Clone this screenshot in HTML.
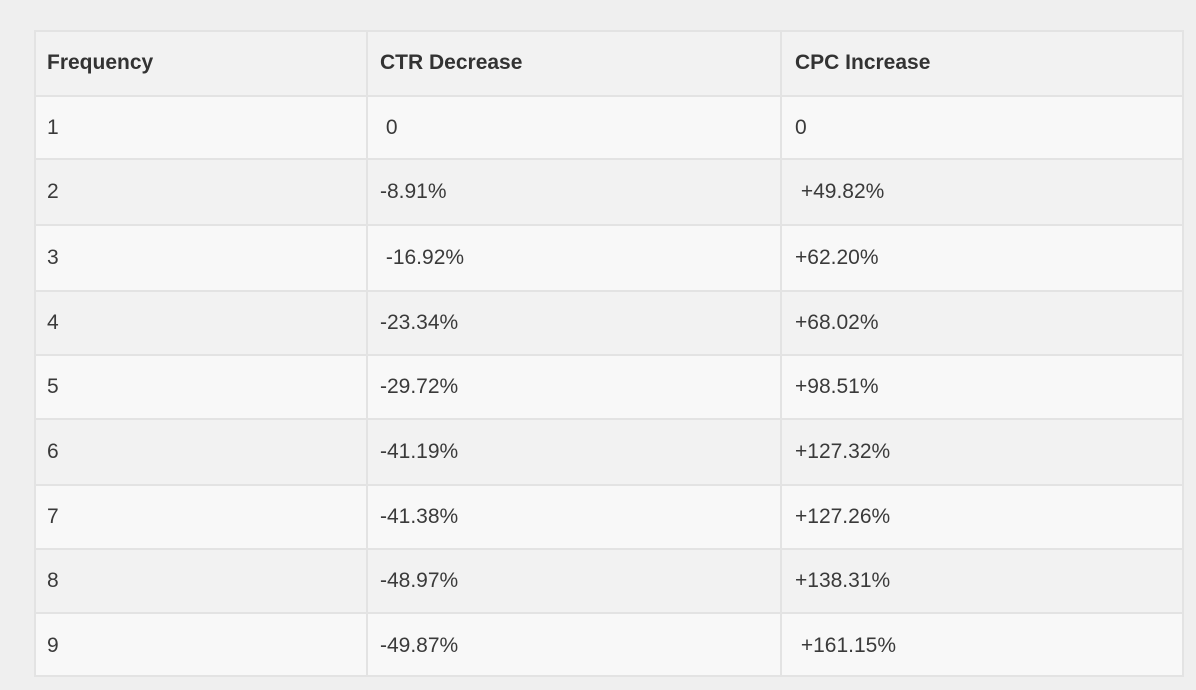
<!DOCTYPE html>
<html><head><style>
body{margin:0;width:1196px;height:690px;background:#efefef;font-family:"Liberation Sans",sans-serif;overflow:hidden;position:relative}
.r{position:absolute;left:34px;width:1150px;border-top:2px solid #e3e3e3;box-sizing:border-box}
.c{position:absolute;top:0;bottom:0;display:flex;align-items:center;font-size:21px;color:#3a3a3a}
.v{position:absolute;top:30px;height:647px;width:2px;background:#e3e3e3}
</style></head><body>
<div style="position:absolute;left:34px;top:30px;width:1150px;height:647px;border:2px solid #e3e3e3;box-sizing:border-box"></div>
<div id="t"></div>
<script>
var y=[30,95,158,224,290,354,418,484,548,612,677];
var d=[["Frequency","CTR Decrease","CPC Increase"],["1"," 0","0"],["2","-8.91%"," +49.82%"],["3"," -16.92%","+62.20%"],["4","-23.34%","+68.02%"],["5","-29.72%","+98.51%"],["6","-41.19%","+127.32%"],["7","-41.38%","+127.26%"],["8","-48.97%","+138.31%"],["9","-49.87%"," +161.15%"]];
var xs=[47,380,795],h="";
for(var i=0;i<10;i++){var bg=(i%2==0)?"#f2f2f2":"#f8f8f8";
h+='<div class="r" style="top:'+y[i]+'px;height:'+(y[i+1]-y[i]+(i==9?0:0))+'px;background:'+bg+(i==0?';border-top:none':'')+'">';
for(var j=0;j<3;j++){h+='<div class="c" style="left:'+(xs[j]-34)+'px;white-space:pre;'+(i==0?'font-weight:bold;color:#333;':'')+'">'+d[i][j]+'</div>';}
h+='</div>';}
h+='<div class="v" style="left:366px"></div><div class="v" style="left:780px"></div>';
h+='<div style="position:absolute;left:34px;top:30px;width:1150px;height:647px;border:2px solid #e3e3e3;box-sizing:border-box"></div>';
document.getElementById("t").innerHTML=h;
</script>
</body></html>
